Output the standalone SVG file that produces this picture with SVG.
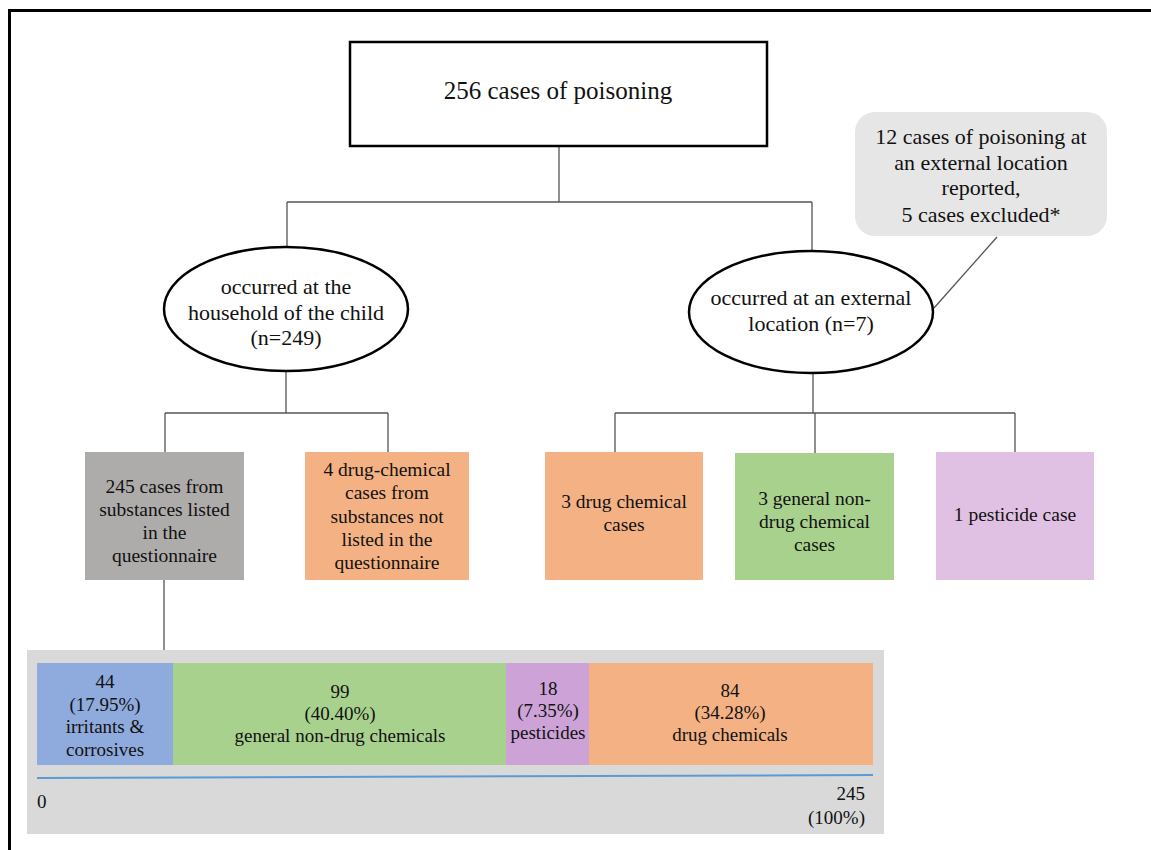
<svg xmlns="http://www.w3.org/2000/svg" width="1151" height="850" viewBox="0 0 1151 850">
  <style>
    text { font-family: "Liberation Serif", "Times New Roman", serif; fill: #111; text-anchor: middle; }
    .t25 { font-size: 25px; }
    .t22 { font-size: 22px; }
    .t19 { font-size: 19.5px; }
    .tb { font-size: 19px; }
    .conn { stroke: #555; stroke-width: 1.3; fill: none; }
    .oval { fill: #fff; stroke: #000; stroke-width: 2.5; }
  </style>

  <rect width="1151" height="850" fill="#fff"/>
  <!-- frame (right and bottom edges fall outside the canvas) -->
  <rect x="9.5" y="10.5" width="1200" height="900" fill="none" stroke="#000" stroke-width="3"/>

  <!-- connectors -->
  <g id="connectors" class="conn">
    <path d="M559 146 V202 M287 202 H812 M287 202 V247 M812 202 V251"/>
    <path d="M997 237 L934 308"/>
    <path d="M286 371 V413 M165 413 H388 M165 413 V452 M388 413 V452"/>
    <path d="M813 373 V413 M615 413 H1015 M615 413 V452 M815 413 V453 M1015 413 V452"/>
    <path d="M164 580 V663"/>
  </g>

  <g id="total">
    <rect x="350" y="42" width="417" height="104" fill="#fff" stroke="#000" stroke-width="2.5"/>
    <text class="t25" x="558" y="99">256 cases of poisoning</text>
  </g>

  <g id="external-note">
    <rect x="855" y="112" width="252" height="124" rx="20" fill="#e7e6e6"/>
    <text class="t22" x="981" y="144">12 cases of poisoning at</text>
    <text class="t22" x="981" y="170">an external location</text>
    <text class="t22" x="981" y="195">reported,</text>
    <text class="t22" x="981" y="222">5 cases excluded*</text>
  </g>

  <g id="household">
    <ellipse class="oval" cx="286" cy="309" rx="122" ry="62"/>
    <text class="t22" x="286" y="294">occurred at the</text>
    <text class="t22" x="286" y="319.5">household of the child</text>
    <text class="t22" x="286" y="345">(n=249)</text>
  </g>

  <g id="external">
    <ellipse class="oval" cx="811" cy="312" rx="122" ry="61"/>
    <text class="t22" x="811" y="305">occurred at an external</text>
    <text class="t22" x="811" y="331">location (n=7)</text>
  </g>

  <g id="listed">
    <rect x="85" y="452" width="159" height="128" fill="#aeabab"/>
    <text class="t19" x="164.5" y="493">245 cases from</text>
    <text class="t19" x="164.5" y="516">substances listed</text>
    <text class="t19" x="164.5" y="539">in the</text>
    <text class="t19" x="164.5" y="562">questionnaire</text>
  </g>

  <g id="not-listed">
    <rect x="305" y="452" width="164" height="128" fill="#f4b183"/>
    <text class="t19" x="387" y="476">4 drug-chemical</text>
    <text class="t19" x="387" y="499">cases from</text>
    <text class="t19" x="387" y="523">substances not</text>
    <text class="t19" x="387" y="546">listed in the</text>
    <text class="t19" x="387" y="569">questionnaire</text>
  </g>

  <g id="ext-drug">
    <rect x="545" y="452" width="158" height="128" fill="#f4b183"/>
    <text class="t19" x="624" y="508">3 drug chemical</text>
    <text class="t19" x="624" y="531">cases</text>
  </g>

  <g id="ext-general">
    <rect x="735" y="453" width="159" height="127" fill="#a9d18e"/>
    <text class="t19" x="814.5" y="505">3 general non-</text>
    <text class="t19" x="814.5" y="528">drug chemical</text>
    <text class="t19" x="814.5" y="551">cases</text>
  </g>

  <g id="ext-pesticide">
    <rect x="936" y="452" width="158" height="128" fill="#e0c1e3"/>
    <text class="t19" x="1015" y="521">1 pesticide case</text>
  </g>

  <!-- breakdown of the 245 listed-substance cases -->
  <g id="breakdown">
    <rect x="27" y="650" width="857" height="184" fill="#d9d9d9"/>
    <rect x="37" y="663" width="136" height="102" fill="#8faadc"/>
    <rect x="173" y="663" width="333" height="102" fill="#a9d18e"/>
    <rect x="506" y="663" width="83" height="102" fill="#cda2d7"/>
    <rect x="589" y="663" width="284" height="102" fill="#f4b183"/>

    <text class="tb" x="105" y="688">44</text>
    <text class="tb" x="105" y="711">(17.95%)</text>
    <text class="tb" x="105" y="733">irritants &amp;</text>
    <text class="tb" x="105" y="756">corrosives</text>

    <text class="tb" x="340" y="698">99</text>
    <text class="tb" x="340" y="720">(40.40%)</text>
    <text class="tb" x="340" y="742">general non-drug chemicals</text>

    <text class="tb" x="548" y="695">18</text>
    <text class="tb" x="548" y="717">(7.35%)</text>
    <text class="tb" x="548" y="739">pesticides</text>

    <text class="tb" x="730" y="697">84</text>
    <text class="tb" x="730" y="719">(34.28%)</text>
    <text class="tb" x="730" y="741">drug chemicals</text>

    <line x1="37" y1="778" x2="873" y2="775" stroke="#5b9bd5" stroke-width="2"/>
    <text class="tb" x="37" y="808" style="text-anchor:start">0</text>
    <text class="tb" x="865" y="800" style="text-anchor:end">245</text>
    <text class="tb" x="865" y="824" style="text-anchor:end">(100%)</text>
  </g>
</svg>
